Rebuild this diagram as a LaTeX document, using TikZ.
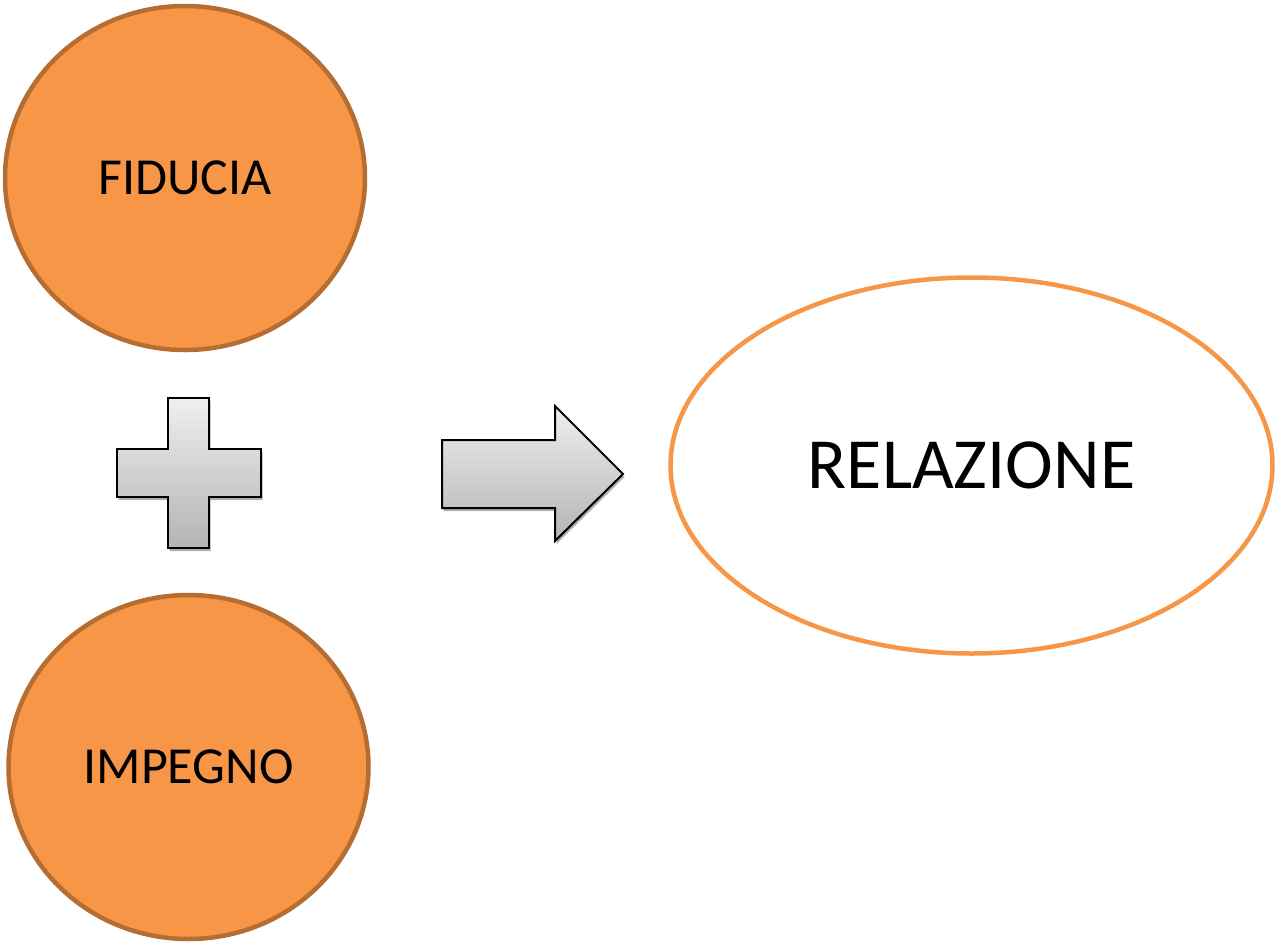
\documentclass[tikz,border=0pt]{standalone}
\usepackage{fontspec}
\setmainfont{Carlito}
\usetikzlibrary{shapes.geometric}
\definecolor{orangefill}{HTML}{F79646}
\definecolor{orangeedge}{HTML}{B66D31}
\definecolor{shapetop}{HTML}{EFEFEF}
\definecolor{shapebot}{HTML}{B4B4B4}
\definecolor{shadowgray}{HTML}{9A9A9A}
\tikzset{
  factor/.style={ellipse, draw=orangeedge, line width=4.5pt, fill=orangefill,
    minimum width=360pt, minimum height=344pt, inner sep=0pt,
    font=\fontsize{52}{60}\selectfont},
  result/.style={ellipse, draw=orangefill, line width=4.5pt, fill=white,
    minimum width=602pt, minimum height=376pt, inner sep=0pt,
    font=\fontsize{72}{80}\selectfont},
  greyshape/.style={draw=black, line width=2pt, line join=miter,
    top color=shapetop, bottom color=shapebot},
  shapeshadow/.style={fill=shadowgray, draw=none, opacity=0.8}
}
\begin{document}
\begin{tikzpicture}[x=1pt, y=-1pt]
  \useasboundingbox (0,0) rectangle (1278,943);

  % the two factors and the result
  \node[factor] (fiducia) at (185,178) {FIDUCIA};
  \node[factor] (impegno) at (188.5,767) {IMPEGNO};
  \node[result] (relazione) at (971.5,465.5) {RELAZIONE};

  % plus sign
  \def\plusshape{(168,398) -- (209,398) -- (209,449) -- (261,449) -- (261,497)
    -- (209,497) -- (209,548) -- (168,548) -- (168,497) -- (117,497)
    -- (117,449) -- (168,449) -- cycle}
  \fill[shapeshadow, shift={(1.5,3)}] \plusshape;
  \path[greyshape] \plusshape;

  % block arrow
  \def\arrowshape{(442,440) -- (555,440) -- (555,406) -- (623,474)
    -- (555,541) -- (555,508) -- (442,508) -- cycle}
  \fill[shapeshadow, shift={(1.5,3)}] \arrowshape;
  \path[greyshape] \arrowshape;
\end{tikzpicture}
\end{document}
